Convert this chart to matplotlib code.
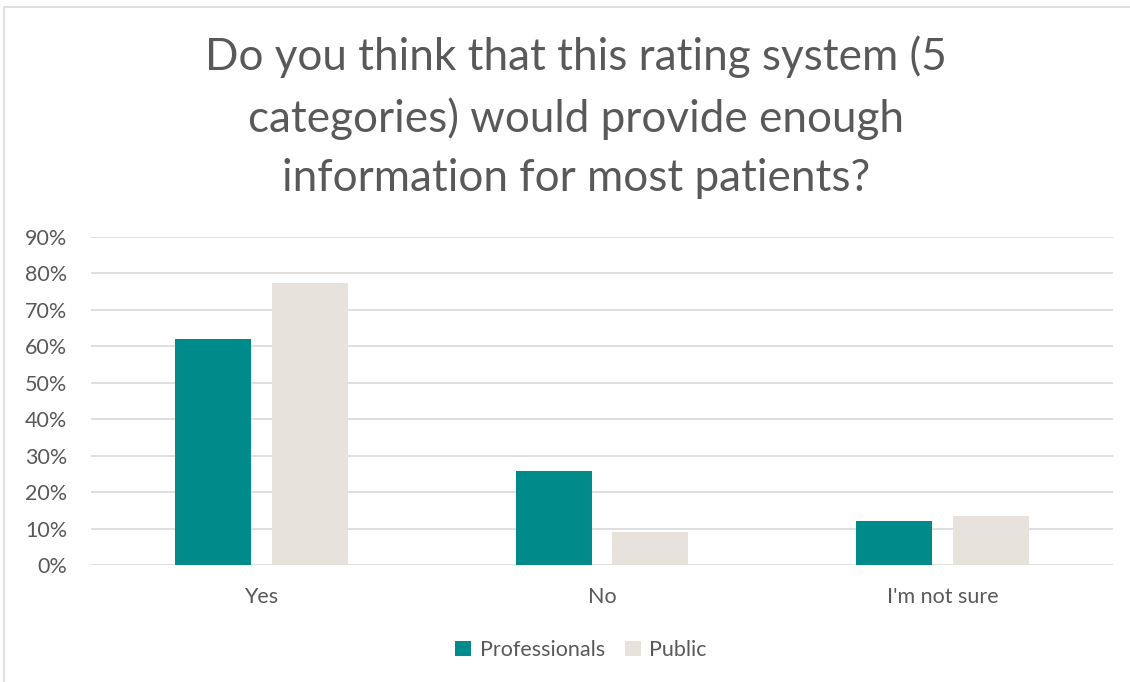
import matplotlib
matplotlib.use("Agg")
import matplotlib.pyplot as plt
from matplotlib.patches import Rectangle
import numpy as np

categories = ["Yes", "No", "I'm not sure"]
professionals = [62.0, 25.8, 12.2]
public = [77.4, 9.0, 13.4]
series_names = ["Professionals", "Public"]
yticks = [0, 10, 20, 30, 40, 50, 60, 70, 80, 90]
title = "Do you think that this rating system (5\ncategories) would provide enough\ninformation for most patients?"

TEAL = "#008B8B"
BEIGE = "#E7E2DB"
GRAY = "#595959"
FONT = ["Lato", "DejaVu Sans"]

W, H = 1130, 682
fig = plt.figure(figsize=(W / 100, H / 100), dpi=100)
fig.patch.set_facecolor("white")

# outer chart border
fig.add_artist(Rectangle((4 / W, -0.1), 1.2, (H - 7) / H + 0.1, transform=fig.transFigure,
                         fill=False, edgecolor="#D9D9D9", linewidth=1.2))

ax = fig.add_axes([91 / W, 1 - 565 / H, (1113 - 91) / W, (565 - 237) / H])
ax.set_ylim(0, 90)
ax.set_xlim(-0.5, 2.5)

x = np.arange(len(categories))
bw = 76 / 341
off = (76 + 21) / 2 / 341
ax.bar(x - off, professionals, bw, color=TEAL, zorder=3, label=series_names[0])
ax.bar(x + off, public, bw, color=BEIGE, zorder=3, label=series_names[1])

ax.set_yticks(yticks)
ax.set_yticklabels([f"{v}%" for v in yticks], fontsize=15.5, color=GRAY, family=FONT)
ax.set_xticks(x)
ax.set_xticklabels(categories, fontsize=15.5, color=GRAY, family=FONT)
ax.tick_params(axis="both", length=0)
ax.tick_params(axis="y", pad=17)
ax.tick_params(axis="x", pad=16)
ax.grid(axis="y", color="#D9D9D9", linewidth=1.2, zorder=0)
for s in ax.spines.values():
    s.set_visible(False)

fig.text(576 / W, 1 - 117 / H, title, ha="center", va="center", fontsize=31.7,
         color=GRAY, family=FONT, linespacing=1.55)

leg = fig.legend(loc="center", bbox_to_anchor=(581 / W, 1 - 650 / H), ncol=2, frameon=False,
                 prop={"family": FONT, "size": 15.5}, handlelength=0.75, handleheight=0.75,
                 handletextpad=0.4, columnspacing=0.9)
for t in leg.get_texts():
    t.set_color(GRAY)

fig.savefig("out.png", dpi=100, facecolor="white")
